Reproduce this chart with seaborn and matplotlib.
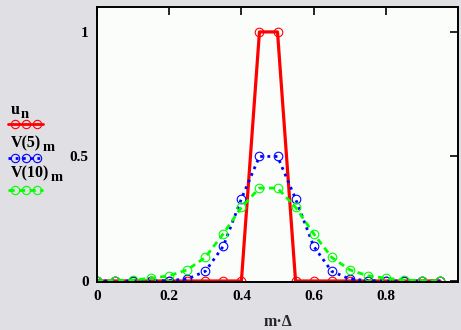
import numpy as np
import pandas as pd
import matplotlib
matplotlib.use("Agg")
import matplotlib.pyplot as plt
import seaborn as sns
from matplotlib.lines import Line2D

# ---- data ----
m_delta = [0.00, 0.05, 0.10, 0.15, 0.20, 0.25, 0.30, 0.35, 0.40, 0.45,
           0.50, 0.55, 0.60, 0.65, 0.70, 0.75, 0.80, 0.85, 0.90, 0.95]
u_vals = [0, 0, 0, 0, 0, 0, 0, 0, 0, 1.0,
          1.0, 0, 0, 0, 0, 0, 0, 0, 0, 0]
v5_vals = [0, 0, 0, 0, 0.002, 0.008, 0.039, 0.14, 0.33, 0.50,
           0.50, 0.33, 0.14, 0.039, 0.008, 0.002, 0, 0, 0, 0]
v10_vals = [0, 0.001, 0.004, 0.011, 0.021, 0.045, 0.095, 0.19, 0.296, 0.373,
            0.373, 0.296, 0.19, 0.095, 0.045, 0.021, 0.011, 0.004, 0.001, 0]
x_ticks = [0, 0.2, 0.4, 0.6, 0.8]
x_tick_labels = ["0", "0.2", "0.4", "0.6", "0.8"]
y_ticks = [0, 0.5, 1]
y_tick_labels = ["0", "0.5", "1"]
legend_base = ["u", "V(5)", "V(10)"]
legend_sub = ["n", "m", "m"]
x_label = "m·Δ"

RED = "#ff0000"
BLUE = "#0000ff"
GREEN = "#00ff00"

sns.set_style("white")
plt.rcParams["font.family"] = ["Liberation Serif", "DejaVu Serif"]

fig = plt.figure(figsize=(4.61, 3.30), dpi=100, facecolor="#e0dfe3")
ax = fig.add_axes([97 / 461, 1 - 282 / 330, (458 - 97) / 461, (282 - 7) / 330])
ax.set_facecolor("#fbfdfb")

df = pd.DataFrame({"x": m_delta, "u": u_vals, "v5": v5_vals, "v10": v10_vals})

mk = dict(marker="o", markersize=6.2, markerfacecolor="none", markeredgewidth=0.8)
sns.lineplot(data=df, x="x", y="u", ax=ax, color=RED, linewidth=2.3,
             linestyle="-", markeredgecolor=RED, **mk)
sns.lineplot(data=df, x="x", y="v5", ax=ax, color=BLUE, linewidth=2.0,
             linestyle=(0, (1, 1.6)), markeredgecolor=BLUE, **mk)
sns.lineplot(data=df, x="x", y="v10", ax=ax, color=GREEN, linewidth=2.0,
             linestyle=(0, (2.2, 1.6)), markeredgecolor=GREEN, **mk)

ax.set_xlim(0, 1.0)
ax.set_ylim(-0.004, 1.1)
ax.set_xticks(x_ticks)
ax.set_xticklabels(x_tick_labels)
ax.set_yticks(y_ticks)
ax.set_yticklabels(y_tick_labels)
ax.set_xlabel(x_label, fontsize=11.5, labelpad=8, fontweight="bold")
ax.set_ylabel("")
ax.tick_params(direction="in", length=6, width=1.2, top=True, right=True,
               labelsize=11, pad=6, colors="black")
for lab in ax.get_xticklabels() + ax.get_yticklabels():
    lab.set_fontweight("bold")
for sp in ax.spines.values():
    sp.set_visible(True)
    sp.set_color("black")
    sp.set_linewidth(1.4)

# legend on the left, outside the axes (label above its sample)
leg_text_y = [114, 147, 177]
leg_line_y = [124, 158, 190]
leg_colors = [RED, BLUE, GREEN]
leg_styles = ["-", (0, (1, 1.6)), (0, (2.2, 1.6))]
for base, sub, ty, ly, c, ls in zip(legend_base, legend_sub, leg_text_y, leg_line_y,
                                    leg_colors, leg_styles):
    t = fig.text(11 / 461, 1 - ty / 330, base, fontsize=11.5, fontweight="bold",
                 ha="left", va="baseline", color="black")
    ax.annotate(sub, xy=(1.0, 0.0), xycoords=t, xytext=(1, -3),
                textcoords="offset pixels", fontsize=10.5, fontweight="bold",
                ha="left", va="bottom", color="black", annotation_clip=False)
    fig.add_artist(Line2D([8 / 461, 43 / 461], [1 - ly / 330] * 2,
                          transform=fig.transFigure, color=c, linewidth=2.0,
                          linestyle=ls))
    fig.add_artist(Line2D([15 / 461, 26 / 461, 37 / 461], [1 - ly / 330] * 3,
                          transform=fig.transFigure, color=c, linestyle="none",
                          marker="o", markersize=6, markerfacecolor="none",
                          markeredgecolor=c, markeredgewidth=0.8))

fig.savefig("out.png", dpi=100, facecolor=fig.get_facecolor())
